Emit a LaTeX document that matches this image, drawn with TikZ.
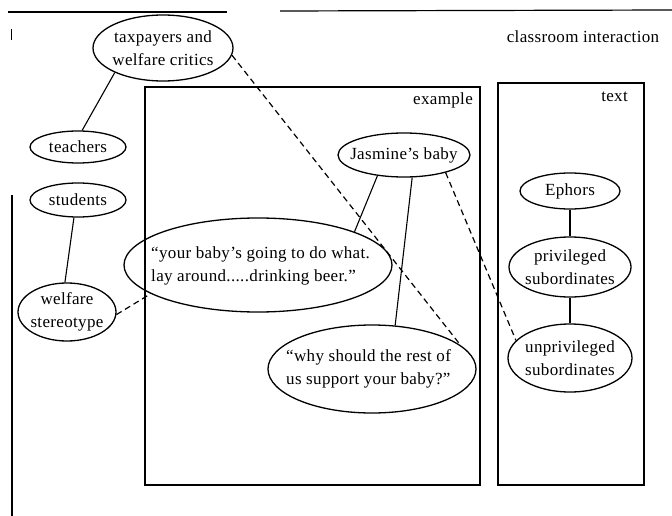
\documentclass[tikz,border=0pt]{standalone}
\usepackage{fontspec}
\setmainfont[LetterSpace=2]{Liberation Serif}
\usetikzlibrary{shapes.geometric}
\begin{document}
\begin{tikzpicture}[x=1pt,y=-1pt,
  ell/.style={ellipse, draw, line width=1.3pt, inner sep=0pt},
  lbl/.style={font=\fontsize{17}{22.5}\selectfont, inner sep=0pt},
  con/.style={line width=1.1pt},
  dsh/.style={line width=1.2pt, dash pattern=on 6pt off 4pt},
  frame/.style={draw, line width=1.2pt, inner sep=0pt}]
\useasboundingbox (0,0) rectangle (672,516);

% outer frame (as scanned)
\coordinate (f1) at (8,12);
\coordinate (f2) at (227,12);
\coordinate (f3) at (280,11);
\coordinate (f4) at (672,10);
\coordinate (f5) at (12,195);
\coordinate (f6) at (12,516);
\coordinate (f7) at (11,29);
\coordinate (f8) at (11,40);
\draw[line width=1.2pt] (f1) -- (f2);
\draw[line width=1.2pt] (f3) -- (f4);
\draw[line width=1.2pt] (f5) -- (f6);
\draw[line width=0.8pt] (f7) -- (f8);
\node[lbl] (cl) at (583,37) {classroom interaction};

% boxes
\node[frame, minimum width=335pt, minimum height=398pt] (exbox) at (312.5,286) {};
\node[lbl, anchor=east] (exl) at (473,100) {example};
\node[frame, minimum width=146pt, minimum height=402pt] (txbox) at (571,284) {};
\node[lbl, anchor=east] (txl) at (628,97) {text};

% left nodes
\node[ell, minimum width=140pt, minimum height=66pt] (tp) at (163,48) {};
\node[lbl, align=center] (tpt) at (tp) {taxpayers and\\welfare critics};
\node[ell, minimum width=96pt, minimum height=32pt] (te) at (78,147) {};
\node[lbl] (tet) at (te) {teachers};
\node[ell, minimum width=96pt, minimum height=34pt] (st) at (78,200) {};
\node[lbl] (stt) at (st) {students};
\node[ell, minimum width=98pt, minimum height=58pt] (wf) at (67,312) {};
\node[lbl, align=center] (wft) at (wf) {welfare\\stereotype};

% example nodes
\node[ell, minimum width=132pt, minimum height=44pt] (jb) at (404,155) {};
\node[lbl] (jbt) at (jb) {Jasmine’s baby};
\node[ell, minimum width=268pt, minimum height=94pt] (yb) at (258,265) {};
\node[lbl, align=left, anchor=west] (ybt) at (151,266) {“your baby’s going to do what.\\lay around.....drinking beer.”};
\node[ell, minimum width=208pt, minimum height=88pt] (ws) at (372,369) {};
\node[lbl, align=left, anchor=west] (wst) at (286,369) {“why should the rest of\\us support your baby?”};

% text nodes
\node[ell, minimum width=100pt, minimum height=36pt] (ep) at (570,191) {};
\node[lbl] (ept) at (ep) {Ephors};
\node[ell, minimum width=122pt, minimum height=60pt] (pv) at (570,267) {};
\node[lbl, align=center] (pvt) at (pv) {privileged\\subordinates};
\node[ell, minimum width=124pt, minimum height=68pt] (us) at (570,358) {};
\node[lbl, align=center] (ust) at (us) {unprivileged\\subordinates};

% connectors
\draw[con] (tp.207) -- (te.76);
\draw[con] (st.257) -- (wf.94);
\draw[dsh] (wf.-3) -- (yb.195);
\draw[con] (jb.218) -- (yb.19);
\draw[con] (jb.290) -- (ws.62);
\draw[dsh] (jb.337) -- (us.162);
\draw[dsh] (tp.-6) -- (ws.15);
\draw[con] (ep) -- (pv);
\draw[con] (pv) -- (us);
\end{tikzpicture}
\end{document}
